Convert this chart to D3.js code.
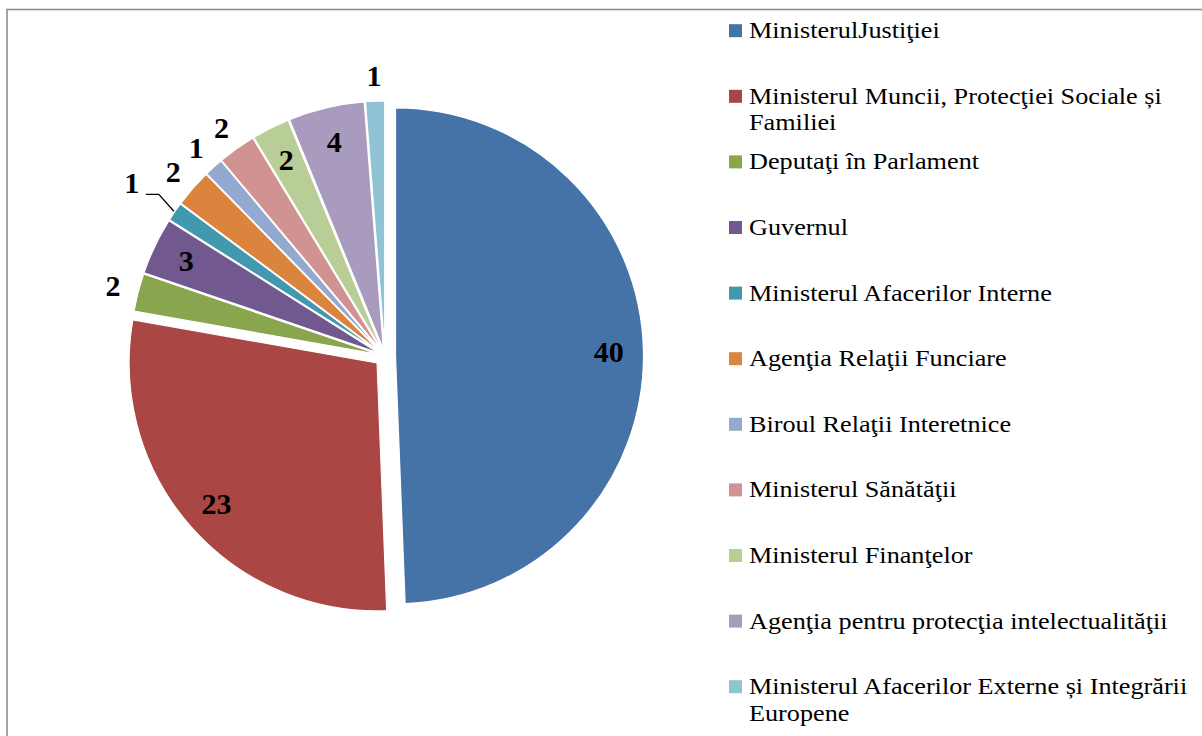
<!DOCTYPE html>
<html>
<head>
<meta charset="utf-8">
<script src="https://cdn.jsdelivr.net/npm/d3@7"></script>
<style>
    body { margin: 0; background: #fff; }
    svg { display: block; }
    .slice-label { font-family: 'Liberation Serif', 'Times New Roman', serif; font-weight: bold; font-size: 30px; fill: #000; }
    .legend-text { font-family: 'Liberation Serif', 'Times New Roman', serif; font-size: 23px; fill: #000; }
</style>
</head>
<body>
<svg id="chart"></svg>
<script>
// data

const categories = [
    'MinisterulJustiţiei',
    'Ministerul Muncii, Protecţiei Sociale și Familiei',
    'Deputaţi în Parlament',
    'Guvernul',
    'Ministerul Afacerilor Interne',
    'Agenţia Relaţii Funciare',
    'Biroul Relaţii Interetnice',
    'Ministerul Sănătăţii',
    'Ministerul Finanţelor',
    'Agenţia pentru protecţia intelectualităţii',
    'Ministerul Afacerilor Externe și Integrării Europene'
];
const values = [40, 23, 2, 3, 1, 2, 1, 2, 2, 4, 1];
const colors = ['#4572A7', '#AA4643', '#89A54E', '#71588F', '#4198AF', '#DB843D',
    '#93A9CF', '#D19392', '#B9CD96', '#A99BBD', '#92C3D5'];

// which slices get their label inside, which one is pulled out with a leader line
const insideLabels = [categories[0], categories[1], categories[3], categories[8], categories[9]];
const leaderLabels = [categories[4]];

// sizes

let width = 1202;
let height = 736;
let cx = 385;
let cy = 356;
let radius = 248;
let legendX = 729;
let legendTop = 30.7;
let legendStep = 65.6;
let legendBox = 13;
let legendWrap = 455;
let lineHeight = 26.7;
let textStretch = 1.14; // legend text in the reference is a bit wider than Times

let color = d3.scaleOrdinal()
    .domain(categories)
    .range(colors);

let svg = d3.select('#chart')
    .attr('width', width)
    .attr('height', height);

// frame
svg.append('rect')
    .attr('x', 7)
    .attr('y', 9.5)
    .attr('width', width + 20)
    .attr('height', height + 20)
    .style('fill', 'none')
    .style('stroke', '#8e8e8e')
    .style('stroke-width', 1.6);

let data = categories.map((c, i) => ({ name: c, value: values[i] }));

let pie = d3.pie()
    .sort(null)
    .value(d => d.value);

let arc = d3.arc()
    .innerRadius(0)
    .outerRadius(radius);

let arcs = pie(data);

function explode(d) {
    return d.data.value >= 20 ? 10.5 : 7;
}

function polar(angle, r) {
    return [Math.sin(angle) * r, -Math.cos(angle) * r];
}

let pieG = svg.append('g')
    .attr('transform', `translate(${cx}, ${cy})`);

let slices = pieG.selectAll('g.slice')
    .data(arcs)
    .enter()
    .append('g')
    .attr('class', 'slice')
    .attr('transform', d => {
        let mid = (d.startAngle + d.endAngle) / 2;
        let [dx, dy] = polar(mid, explode(d));
        return `translate(${dx}, ${dy})`;
    });

slices.append('path')
    .attr('d', arc)
    .style('fill', d => color(d.data.name))
    .style('stroke', '#fff')
    .style('stroke-width', 1.2)
    .style('stroke-linejoin', 'round');

// labels
slices.each(function(d) {
    let g = d3.select(this);
    let mid = (d.startAngle + d.endAngle) / 2;
    let r;
    if (insideLabels.includes(d.data.name)) {
        r = radius * 0.86;
    } else if (leaderLabels.includes(d.data.name)) {
        r = radius + 52;
    } else {
        r = radius + 26;
    }
    let [lx, ly] = polar(mid, r);

    if (leaderLabels.includes(d.data.name)) {
        let [ex, ey] = polar(mid, radius + 1);
        g.append('polyline')
            .attr('points', [[ex, ey], [lx + 27, ly + 12], [lx + 14, ly + 12]].map(p => p.join(',')).join(' '))
            .style('fill', 'none')
            .style('stroke', '#000')
            .style('stroke-width', 1.3);
    }

    g.append('text')
        .attr('class', 'slice-label')
        .attr('x', lx)
        .attr('y', ly)
        .attr('dy', '0.35em')
        .style('text-anchor', 'middle')
        .text(d.data.value);
});

// legend
let legend = svg.append('g');

categories.forEach((name, i) => {
    let yc = legendTop + i * legendStep;

    legend.append('rect')
        .attr('x', legendX)
        .attr('y', yc - legendBox / 2)
        .attr('width', legendBox)
        .attr('height', legendBox)
        .style('fill', color(name));

    let text = legend.append('text')
        .attr('class', 'legend-text')
        .attr('transform', `translate(${legendX + 20}, ${yc + 7.5}) scale(${textStretch}, 1)`);

    // wrap words onto lines
    let words = name.split(' ');
    let line = [];
    let tspan = text.append('tspan').attr('x', 0).attr('dy', 0);
    words.forEach(w => {
        line.push(w);
        tspan.text(line.join(' '));
        if (tspan.node().getComputedTextLength() * textStretch > legendWrap && line.length > 1) {
            line.pop();
            tspan.text(line.join(' '));
            line = [w];
            tspan = text.append('tspan')
                .attr('x', 0)
                .attr('dy', lineHeight)
                .text(w);
        }
    });
});
</script>
</body>
</html>
